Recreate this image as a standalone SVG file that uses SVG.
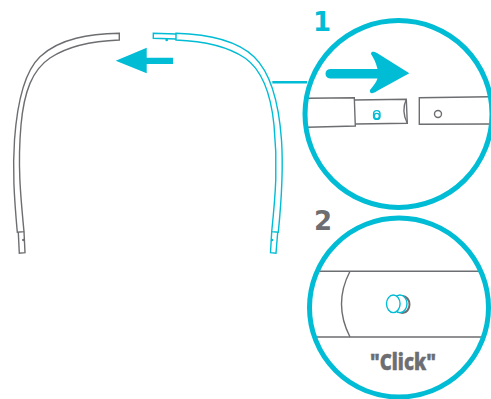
<svg xmlns="http://www.w3.org/2000/svg" width="491" height="399" viewBox="0 0 491 399">
<style>
.g{fill:none;stroke:#6d6e71;stroke-width:1.400}
.b{fill:none;stroke:#00bcd4;stroke-width:1.400}
.c{fill:none;stroke:#00bcd4;stroke-width:5}
.f{fill:#00bcd4;stroke:none}
.t{font-family:"Open Sans","Liberation Sans",sans-serif;font-weight:800}
.n{font-family:"DejaVu Sans",sans-serif;font-weight:700;font-size:26px}
</style>
<rect width="491" height="399" fill="#fff"/>
<g id="band-left">
<path class="g" d="M119.300 33.300C90 34 60 38 40 56.700C24 72 17 105 14.500 140C12.500 170 14 195 17.300 232.300L24 231.700C20.500 195 17.500 165 21 125C24 92 32 70 50 58C68 46 92 41 119.300 40Z"/>
<path class="g" d="M18.300 232.300L19.300 253.300L25 252.700L24 231.700"/>
<circle cx="23.300" cy="240" r="1.200" fill="#6d6e71"/>
</g>
<g id="band-right">
<path class="b" d="M176 33.300C204 34 235 39 254 56.700C271 73 279 105 281.500 140C283.500 170 282 195 278.300 232.300L271.700 231.700C275.500 195 278 165 274 125C271 95 262 70 245 58C227 46 203 41 176 40Z"/>
<path class="b" d="M176 34L153.300 33.300L153.300 38.300L176 39"/>
<circle cx="166.700" cy="40" r="1.300" fill="#00bcd4"/>
<path class="b" d="M271.700 231.700L270.500 252.700L276 253.300L277.700 232.300"/>
<circle cx="272" cy="240" r="1.300" fill="#00bcd4"/>
</g>
<g id="connectors">
<path d="M272.300 82.300H307" fill="none" stroke="#00bcd4" stroke-width="2.500"/>
</g>
<g id="arrow-left">
<path class="f" d="M115.700 60.700L146.700 47.700V57.700H173V64H146.700V73.300Z"/>
</g>
<g id="detail-1">
<path class="g" d="M307.300 98.300L354.300 97.700L355.300 126L307.300 127.300"/>
<path class="g" d="M354.300 100L406.300 99.300L407.300 123.300L355.300 124"/>
<path class="g" d="M406.300 99.300Q401 111 407.300 123.300"/>
<path class="g" d="M490 96.700L419.300 97.700L419.300 124.300L490 124"/>
<circle class="g" cx="438" cy="114" r="3.500"/>
<rect class="b" x="373.600" y="110.600" width="6.400" height="8.800" rx="3.200"/>
<circle class="b" cx="376.800" cy="116" r="2.600"/>
<path class="f" d="M330 69H377.500C376 62 373 57 371 54C371 51 374 51.500 377 53L409.300 73.300L377 91C373 94 369 94 370 90C373 86 376 83 377.500 78.500H330C324 78.500 324 69 330 69Z"/>
<circle class="c" cx="398.500" cy="114" r="93.500"/>
<text class="n f" x="313" y="31">1</text>
</g>
<g id="detail-2">
<path class="g" d="M319 271.300H480M316 337H483"/>
<path class="g" d="M350 271.300Q333 304 350 337"/>
<ellipse cx="402.500" cy="304.500" rx="7" ry="8.500" fill="none" stroke="#6d6e71" stroke-width="2"/>
<ellipse cx="400" cy="303.800" rx="7" ry="8.800" fill="#fff" stroke="#00bcd4" stroke-width="1.400"/>
<ellipse cx="393.300" cy="303.800" rx="6.800" ry="8.800" fill="#fff" stroke="#00bcd4" stroke-width="1.400"/>
<circle class="c" cx="399" cy="307.500" r="89.500"/>
<text class="n" x="314" y="230" fill="#6d6e71">2</text>
<text class="t" x="403" y="370" font-size="22" fill="#6d6e71" stroke="#6d6e71" stroke-width="0.400" text-anchor="middle" textLength="66" lengthAdjust="spacingAndGlyphs">"Click"</text>
</g>
</svg>
